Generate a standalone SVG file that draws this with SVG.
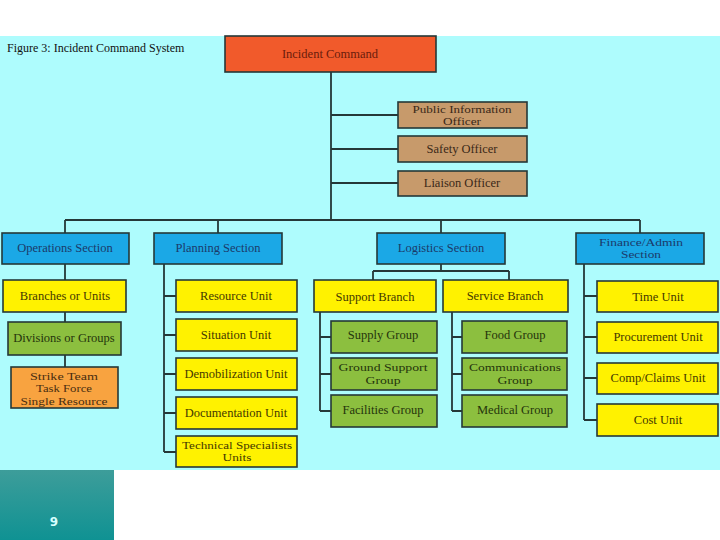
<svg xmlns="http://www.w3.org/2000/svg" width="720" height="540" viewBox="0 0 720 540">
<defs>
<linearGradient id="teal" x1="0" y1="0" x2="0" y2="1">
<stop offset="0" stop-color="#3d9d9a"/>
<stop offset="1" stop-color="#0f9293"/>
</linearGradient>
</defs>
<style>
.b{stroke:#253838;stroke-width:1.6}
.ic{fill:#f15a2b}
.tan{fill:#c79a6b}
.blue{fill:#1ba8e6}
.yel{fill:#fff200}
.grn{fill:#8cbf3f}
.org{fill:#f8a340}
text{font-family:"Liberation Serif","DejaVu Serif",serif;font-size:12.5px;text-anchor:middle}
.m{font-size:11px}
.tic{fill:#6a1c0c}
.ttan{fill:#3a2818}
.tblue{fill:#1b3a6a}
.tyel{fill:#443800}
.tgrn{fill:#24340c}
.torg{fill:#4a2e10}
.c{fill:none;stroke:#253838;stroke-width:1.8}
</style>
<rect x="0" y="0" width="720" height="540" fill="#ffffff"/>
<rect x="0" y="36" width="720" height="434" fill="#aefcfd"/>
<rect x="0" y="470" width="114" height="70" fill="url(#teal)"/>
<text x="54" y="526" style="font-family:'DejaVu Sans',sans-serif;font-size:12px;font-weight:bold;fill:#d8ffff">9</text>
<text x="7" y="52" style="text-anchor:start;font-size:12px;fill:#111">Figure 3: Incident Command System</text>

<g id="connectors">
<path class="c" d="M331 72V220M331 115H398M331 149H398M331 183H398"/>
<path class="c" d="M65 220H640M65 220V233M218 220V233M441 220V233M640 220V233"/>
<path class="c" d="M65 264V280M65 312V322M65 355V367"/>
<path class="c" d="M164 264V452M164 296H176M164 335H176M164 374H176M164 413H176M164 452H176"/>
<path class="c" d="M441 264V271M373 271H509M373 271V280M509 271V280"/>
<path class="c" d="M320 312V411M320 337H331M320 374H331M320 411H331"/>
<path class="c" d="M452 312V411M452 337H462M452 374H462M452 411H462"/>
<path class="c" d="M584 264V420M584 296H597M584 337H597M584 378H597M584 420H597"/>
</g>

<g id="incident-command"><rect class="b ic" x="225" y="36" width="211" height="36"/><text class="tic" x="330" y="58">Incident Command</text></g>
<g id="public-information-officer"><rect class="b tan" x="398" y="102" width="129" height="26"/><text class="ttan m" x="462" y="112.5" textLength="99" lengthAdjust="spacingAndGlyphs">Public Information</text><text class="ttan m" x="462" y="125" textLength="38" lengthAdjust="spacingAndGlyphs">Officer</text></g>
<g id="safety-officer"><rect class="b tan" x="398" y="136" width="129" height="26"/><text class="ttan" x="462" y="153">Safety Officer</text></g>
<g id="liaison-officer"><rect class="b tan" x="398" y="171" width="129" height="25"/><text class="ttan" x="462" y="187">Liaison Officer</text></g>

<g id="operations-section"><rect class="b blue" x="2" y="233" width="127" height="31"/><text class="tblue" x="65" y="252">Operations Section</text></g>
<g id="planning-section"><rect class="b blue" x="154" y="233" width="128" height="31"/><text class="tblue" x="218" y="252">Planning Section</text></g>
<g id="logistics-section"><rect class="b blue" x="377" y="233" width="128" height="31"/><text class="tblue" x="441" y="252">Logistics Section</text></g>
<g id="finance-admin-section"><rect class="b blue" x="576" y="233" width="128" height="31"/><text class="tblue m" x="641" y="245.5" textLength="84" lengthAdjust="spacingAndGlyphs">Finance/Admin</text><text class="tblue m" x="641" y="258" textLength="40" lengthAdjust="spacingAndGlyphs">Section</text></g>

<g id="branches-or-units"><rect class="b yel" x="3" y="280" width="123" height="32"/><text class="tyel" x="65" y="300">Branches or Units</text></g>
<g id="divisions-or-groups"><rect class="b grn" x="8" y="322" width="113" height="33"/><text class="tgrn" x="64" y="342">Divisions or Groups</text></g>
<g id="strike-team"><rect class="b org" x="11" y="367" width="107" height="41"/><text class="torg m" x="64" y="379.5" textLength="68" lengthAdjust="spacingAndGlyphs">Strike Team</text><text class="torg m" x="64" y="392" textLength="56" lengthAdjust="spacingAndGlyphs">Task Force</text><text class="torg m" x="64" y="404.5" textLength="87" lengthAdjust="spacingAndGlyphs">Single Resource</text></g>

<g id="resource-unit"><rect class="b yel" x="176" y="280" width="121" height="32"/><text class="tyel" x="236" y="300">Resource Unit</text></g>
<g id="situation-unit"><rect class="b yel" x="176" y="319" width="121" height="32"/><text class="tyel" x="236" y="339">Situation Unit</text></g>
<g id="demobilization-unit"><rect class="b yel" x="176" y="358" width="121" height="32"/><text class="tyel" x="236" y="378">Demobilization Unit</text></g>
<g id="documentation-unit"><rect class="b yel" x="176" y="397" width="121" height="32"/><text class="tyel" x="236" y="417">Documentation Unit</text></g>
<g id="technical-specialists"><rect class="b yel" x="176" y="436" width="121" height="31"/><text class="tyel m" x="237" y="448.5" textLength="110" lengthAdjust="spacingAndGlyphs">Technical Specialists</text><text class="tyel m" x="237" y="461" textLength="29" lengthAdjust="spacingAndGlyphs">Units</text></g>

<g id="support-branch"><rect class="b yel" x="314" y="280" width="122" height="32"/><text class="tyel" x="375" y="301">Support Branch</text></g>
<g id="service-branch"><rect class="b yel" x="443" y="280" width="125" height="32"/><text class="tyel" x="505" y="300">Service Branch</text></g>
<g id="supply-group"><rect class="b grn" x="331" y="321" width="106" height="32"/><text class="tgrn" x="383" y="339">Supply Group</text></g>
<g id="ground-support-group"><rect class="b grn" x="331" y="358" width="106" height="32"/><text class="tgrn m" x="383" y="371" textLength="89" lengthAdjust="spacingAndGlyphs">Ground Support</text><text class="tgrn m" x="383" y="383.5" textLength="35" lengthAdjust="spacingAndGlyphs">Group</text></g>
<g id="facilities-group"><rect class="b grn" x="331" y="395" width="106" height="32"/><text class="tgrn" x="383" y="414">Facilities Group</text></g>
<g id="food-group"><rect class="b grn" x="462" y="321" width="105" height="32"/><text class="tgrn" x="515" y="339">Food Group</text></g>
<g id="communications-group"><rect class="b grn" x="462" y="358" width="105" height="32"/><text class="tgrn m" x="515" y="371" textLength="92" lengthAdjust="spacingAndGlyphs">Communications</text><text class="tgrn m" x="515" y="383.5" textLength="35" lengthAdjust="spacingAndGlyphs">Group</text></g>
<g id="medical-group"><rect class="b grn" x="462" y="395" width="105" height="32"/><text class="tgrn" x="515" y="414">Medical Group</text></g>

<g id="time-unit"><rect class="b yel" x="597" y="281" width="121" height="31"/><text class="tyel" x="658" y="301">Time Unit</text></g>
<g id="procurement-unit"><rect class="b yel" x="597" y="322" width="121" height="31"/><text class="tyel" x="658" y="341">Procurement Unit</text></g>
<g id="comp-claims-unit"><rect class="b yel" x="597" y="363" width="121" height="31"/><text class="tyel" x="658" y="382">Comp/Claims Unit</text></g>
<g id="cost-unit"><rect class="b yel" x="597" y="404" width="121" height="32"/><text class="tyel" x="658" y="424">Cost Unit</text></g>
</svg>
